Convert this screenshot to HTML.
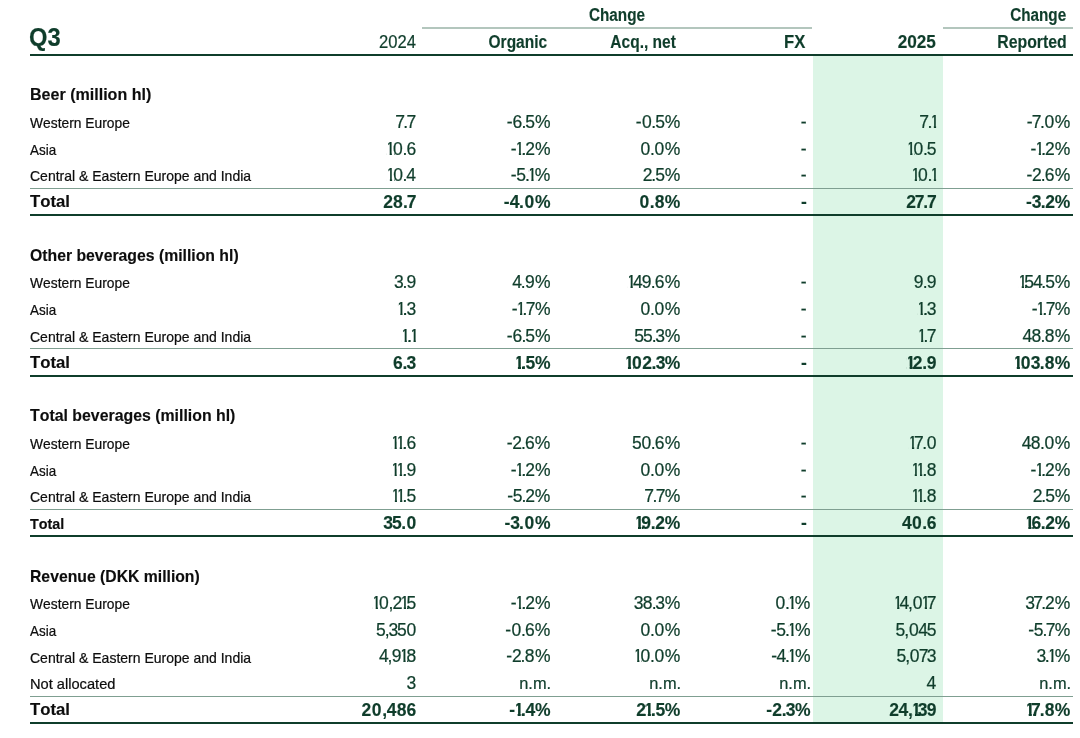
<!DOCTYPE html>
<html lang="en">
<head>
<meta charset="utf-8">
<title>Q3</title>
<style>
html,body{margin:0;padding:0;background:#fff;}
body{width:1080px;height:738px;position:relative;overflow:hidden;font-family:"Liberation Sans",sans-serif;color:#0f3d2b;font-kerning:none;}
span{position:absolute;white-space:nowrap;line-height:20px;-webkit-text-stroke:0.22px currentColor;}
.b{font-weight:bold;-webkit-text-stroke:0.15px currentColor;}
.thin{position:absolute;height:1px;background:#7f9f91;}
.thick{position:absolute;height:2px;background:#0f3d2b;}
.band{position:absolute;background:#dcf5e6;}
.nums{position:absolute;left:0;top:0;font-size:17.5px;fill:#0f3d2b;stroke:#0f3d2b;stroke-width:0.22px;}
.nums .b{font-weight:bold;stroke-width:0.15px;}
</style>
</head>
<body>
<div class="band" style="left:812.6px;top:56px;width:130.3px;height:667px"></div>
<span class="b" style="top:5px;font-size:17.5px;left:589.17px;transform:scaleX(0.8734);transform-origin:left center">Change</span>
<span class="b" style="top:5px;font-size:17.5px;right:13.68px;transform:scaleX(0.8734);transform-origin:right center">Change</span>
<div class="thin" style="left:422px;top:27px;width:390.4px;height:2px;background:#b3c6bd"></div>
<div class="thin" style="left:942.8px;top:27px;width:130.0px;height:2px;background:#b3c6bd"></div>
<span class="b" style="top:27px;font-size:25px;left:29.22px;transform:scaleX(0.9516);transform-origin:left center">Q3</span>
<span style="top:32px;font-size:17.5px;right:664.51px;transform:scaleX(0.9484);transform-origin:right center">2024</span>
<span class="b" style="top:32px;font-size:17.5px;right:533.30px;transform:scaleX(0.8860);transform-origin:right center">Organic</span>
<span class="b" style="top:32px;font-size:17.5px;right:403.71px;transform:scaleX(0.8874);transform-origin:right center">Acq., net</span>
<span class="b" style="top:32px;font-size:17.5px;right:274.15px;transform:scaleX(0.9507);transform-origin:right center">FX</span>
<span class="b" style="top:32px;font-size:17.5px;right:144.22px;transform:scaleX(0.9832);transform-origin:right center">2025</span>
<span class="b" style="top:32px;font-size:17.5px;right:12.75px;transform:scaleX(0.9062);transform-origin:right center">Reported</span>
<div class="thick" style="left:29.8px;top:54px;width:1043.0px"></div>
<span class="b" style="top:85px;font-size:17px;left:29.53px;transform:scaleX(0.9441);transform-origin:left center;color:#0d0d0d">Beer (million hl)</span>
<span style="top:113px;font-size:14.8px;left:30.24px;transform:scaleX(0.9339);transform-origin:left center;color:#0d0d0d">Western Europe</span>
<span style="top:112px;font-size:17.5px;right:273.52px">-</span>
<span style="top:140px;font-size:14.8px;left:30.27px;transform:scaleX(0.9075);transform-origin:left center;color:#0d0d0d">Asia</span>
<span style="top:139px;font-size:17.5px;right:273.52px">-</span>
<span style="top:166px;font-size:14.8px;left:29.59px;transform:scaleX(0.9463);transform-origin:left center;color:#0d0d0d">Central &amp; Eastern Europe and India</span>
<span style="top:165px;font-size:17.5px;right:273.52px">-</span>
<div class="thin" style="left:29.8px;top:188px;width:1043.0px"></div>
<span class="b" style="top:192px;font-size:17px;left:29.81px;transform:scaleX(0.9844);transform-origin:left center;color:#0d0d0d">Total</span>
<span class="b" style="top:192px;font-size:17.5px;right:273.30px">-</span>
<div class="thick" style="left:29.8px;top:214px;width:1043.0px"></div>
<span class="b" style="top:246px;font-size:17px;left:29.95px;transform:scaleX(0.9280);transform-origin:left center;color:#0d0d0d">Other beverages (million hl)</span>
<span style="top:273px;font-size:14.8px;left:30.24px;transform:scaleX(0.9339);transform-origin:left center;color:#0d0d0d">Western Europe</span>
<span style="top:272px;font-size:17.5px;right:273.52px">-</span>
<span style="top:300px;font-size:14.8px;left:30.27px;transform:scaleX(0.9075);transform-origin:left center;color:#0d0d0d">Asia</span>
<span style="top:299px;font-size:17.5px;right:273.52px">-</span>
<span style="top:327px;font-size:14.8px;left:29.59px;transform:scaleX(0.9463);transform-origin:left center;color:#0d0d0d">Central &amp; Eastern Europe and India</span>
<span style="top:326px;font-size:17.5px;right:273.52px">-</span>
<div class="thin" style="left:29.8px;top:348px;width:1043.0px"></div>
<span class="b" style="top:353px;font-size:17px;left:29.81px;transform:scaleX(0.9844);transform-origin:left center;color:#0d0d0d">Total</span>
<span class="b" style="top:353px;font-size:17.5px;right:273.30px">-</span>
<div class="thick" style="left:29.8px;top:375px;width:1043.0px"></div>
<span class="b" style="top:406px;font-size:17px;left:30.42px;transform:scaleX(0.9331);transform-origin:left center;color:#0d0d0d">Total beverages (million hl)</span>
<span style="top:434px;font-size:14.8px;left:30.24px;transform:scaleX(0.9339);transform-origin:left center;color:#0d0d0d">Western Europe</span>
<span style="top:433px;font-size:17.5px;right:273.52px">-</span>
<span style="top:461px;font-size:14.8px;left:30.27px;transform:scaleX(0.9075);transform-origin:left center;color:#0d0d0d">Asia</span>
<span style="top:460px;font-size:17.5px;right:273.52px">-</span>
<span style="top:487px;font-size:14.8px;left:29.59px;transform:scaleX(0.9463);transform-origin:left center;color:#0d0d0d">Central &amp; Eastern Europe and India</span>
<span style="top:486px;font-size:17.5px;right:273.52px">-</span>
<div class="thin" style="left:29.8px;top:509px;width:1043.0px"></div>
<span class="b" style="top:514px;font-size:14.8px;left:29.84px;transform:scaleX(0.9696);transform-origin:left center;color:#0d0d0d">Total</span>
<span class="b" style="top:513px;font-size:17.5px;right:273.30px">-</span>
<div class="thick" style="left:29.8px;top:535px;width:1043.0px"></div>
<span class="b" style="top:567px;font-size:17px;left:29.55px;transform:scaleX(0.9263);transform-origin:left center;color:#0d0d0d">Revenue (DKK million)</span>
<span style="top:594px;font-size:14.8px;left:30.24px;transform:scaleX(0.9339);transform-origin:left center;color:#0d0d0d">Western Europe</span>
<span style="top:621px;font-size:14.8px;left:30.27px;transform:scaleX(0.9075);transform-origin:left center;color:#0d0d0d">Asia</span>
<span style="top:648px;font-size:14.8px;left:29.59px;transform:scaleX(0.9463);transform-origin:left center;color:#0d0d0d">Central &amp; Eastern Europe and India</span>
<span style="top:674px;font-size:14.8px;left:29.80px;transform:scaleX(0.9891);transform-origin:left center;color:#0d0d0d">Not allocated</span>
<span style="top:673px;font-size:16.5px;right:528.90px;transform:scaleX(0.9936);transform-origin:right center">n.m.</span>
<span style="top:673px;font-size:16.5px;right:399.00px;transform:scaleX(0.9936);transform-origin:right center">n.m.</span>
<span style="top:673px;font-size:16.5px;right:268.90px;transform:scaleX(0.9936);transform-origin:right center">n.m.</span>
<span style="top:673px;font-size:16.5px;right:9.00px;transform:scaleX(0.9936);transform-origin:right center">n.m.</span>
<div class="thin" style="left:29.8px;top:696px;width:1043.0px"></div>
<span class="b" style="top:700px;font-size:17px;left:29.81px;transform:scaleX(0.9844);transform-origin:left center;color:#0d0d0d">Total</span>
<div class="thick" style="left:29.8px;top:722px;width:1043.0px"></div>
<svg class="nums" width="1080" height="738" viewBox="0 0 1080 738"><defs><clipPath id="k"><path clip-rule="evenodd" d="M0 0H1080V738H0ZM930.98 114.05H932.4V120.65H930.98ZM931.08 126.04H933.85V129.2H931.08ZM936.1 126.04H939.33V129.2H936.1ZM386.43 141.05H388.2V147.65H386.43ZM516 141.05H517.4V147.65H516ZM906.97 141.05H908.74V147.65H906.97ZM1035.9 141.05H1037.3V147.65H1035.9ZM386.18 153.04H389.65V156.2H386.18ZM391.89 153.04H394.08V156.2H391.89ZM515.38 153.04H518.85V156.2H515.38ZM521.1 153.04H522.64V156.2H521.1ZM906.72 153.04H910.19V156.2H906.72ZM912.43 153.04H914.62V156.2H912.43ZM1035.28 153.04H1038.75V156.2H1035.28ZM1041 153.04H1042.54V156.2H1041ZM386.65 167.05H388.42V173.65H386.65ZM528.47 167.05H529.89V173.65H528.47ZM911.52 167.05H913.29V173.65H911.52ZM930.98 167.05H932.4V173.65H930.98ZM386.4 179.04H389.87V182.2H386.4ZM392.11 179.04H394.3V182.2H392.11ZM528.57 179.04H531.34V182.2H528.57ZM533.59 179.04H536.82V182.2H533.59ZM911.27 179.04H914.74V182.2H911.27ZM916.99 179.04H919.17V182.2H916.99ZM931.08 179.04H933.85V182.2H931.08ZM936.1 179.04H939.33V182.2H936.1ZM627.32 274.05H629.08V280.65H627.32ZM1018.52 274.05H1020.28V280.65H1018.52ZM627.07 286.04H630.53V289.2H627.07ZM632.78 286.04H636.01V289.2H632.78ZM1018.27 286.04H1021.73V289.2H1018.27ZM1023.98 286.04H1024.94V289.2H1023.98ZM397.09 301.05H398.85V307.65H397.09ZM517.15 301.05H518.55V307.65H517.15ZM917.39 301.05H919.15V307.65H917.39ZM1037.05 301.05H1038.45V307.65H1037.05ZM396.84 313.04H400.3V316.2H396.84ZM402.55 313.04H404.1V316.2H402.55ZM516.53 313.04H520V316.2H516.53ZM522.25 313.04H523.79V316.2H522.25ZM917.14 313.04H920.6V316.2H917.14ZM922.85 313.04H924.4V316.2H922.85ZM1036.43 313.04H1039.9V316.2H1036.43ZM1042.15 313.04H1043.69V316.2H1042.15ZM401.4 328.05H403.17V334.65H401.4ZM410.68 328.05H412.1V334.65H410.68ZM917.85 328.05H919.62V334.65H917.85ZM401.15 340.04H404.62V343.2H401.15ZM406.87 340.04H408.41V343.2H406.87ZM410.78 340.04H413.55V343.2H410.78ZM415.8 340.04H419.03V343.2H415.8ZM917.6 340.04H921.07V343.2H917.6ZM923.31 340.04H924.86V343.2H923.31ZM514.53 355.05H516.47V361.65H514.53ZM624.56 355.05H626.5V361.65H624.56ZM906.27 355.05H908.21V361.65H906.27ZM1013.41 355.05H1015.35V361.65H1013.41ZM514.53 366.56H517.92V370.2H514.53ZM521.02 366.56H521.99V370.2H521.02ZM624.57 366.56H627.95V370.2H624.57ZM631.05 366.56H633.02V370.2H631.05ZM906.27 366.56H909.66V370.2H906.27ZM912.76 366.56H913.08V370.2H912.76ZM1013.42 366.56H1016.8V370.2H1013.42ZM1019.9 366.56H1021.87V370.2H1019.9ZM391.39 435.05H393.16V441.65H391.39ZM396.76 435.05H398.38V441.65H396.76ZM908.74 435.05H910.51V441.65H908.74ZM391.14 447.04H394.61V450.2H391.14ZM396.76 447.04H399.83V450.2H396.76ZM402.08 447.04H403.62V450.2H402.08ZM908.49 447.04H911.96V450.2H908.49ZM914.21 447.04H916.8V450.2H914.21ZM391.4 462.05H393.17V468.65H391.4ZM396.77 462.05H398.39V468.65H396.77ZM516 462.05H517.4V468.65H516ZM911.53 462.05H913.3V468.65H911.53ZM916.9 462.05H918.52V468.65H916.9ZM1035.9 462.05H1037.3V468.65H1035.9ZM391.15 474.04H394.62V477.2H391.15ZM396.77 474.04H399.84V477.2H396.77ZM402.09 474.04H403.63V477.2H402.09ZM515.38 474.04H518.85V477.2H515.38ZM521.1 474.04H522.64V477.2H521.1ZM911.28 474.04H914.75V477.2H911.28ZM916.9 474.04H919.97V477.2H916.9ZM922.22 474.04H923.76V477.2H922.22ZM1035.28 474.04H1038.75V477.2H1035.28ZM1041 474.04H1042.54V477.2H1041ZM391.63 488.05H393.4V494.65H391.63ZM397 488.05H398.62V494.65H397ZM911.53 488.05H913.3V494.65H911.53ZM916.9 488.05H918.52V494.65H916.9ZM391.38 500.04H394.85V503.2H391.38ZM397 500.04H400.07V503.2H397ZM402.32 500.04H403.86V503.2H402.32ZM911.28 500.04H914.75V503.2H911.28ZM916.9 500.04H919.97V503.2H916.9ZM922.22 500.04H923.76V503.2H922.22ZM634.6 515.05H636.53V521.65H634.6ZM1024.95 515.05H1026.88V521.65H1024.95ZM634.6 526.56H637.98V530.2H634.6ZM641.08 526.56H641.85V530.2H641.08ZM1024.95 526.56H1028.33V530.2H1024.95ZM1031.43 526.56H1032.32V530.2H1031.43ZM372.47 595.05H374.23V601.65H372.47ZM401.53 595.05H402.33V601.65H401.53ZM516 595.05H517.4V601.65H516ZM788.47 595.05H789.89V601.65H788.47ZM893.91 595.05H895.68V601.65H893.91ZM922.02 595.05H923.33V601.65H922.02ZM372.22 607.04H375.68V610.2H372.22ZM377.93 607.04H380.12V610.2H377.93ZM401.63 607.04H403.78V610.2H401.63ZM406.03 607.04H406.99V610.2H406.03ZM515.38 607.04H518.85V610.2H515.38ZM521.1 607.04H522.64V610.2H521.1ZM788.57 607.04H791.34V610.2H788.57ZM793.59 607.04H796.82V610.2H793.59ZM893.66 607.04H897.13V610.2H893.66ZM899.38 607.04H902.61V610.2H899.38ZM921.35 607.04H924.78V610.2H921.35ZM927.02 607.04H929.62V610.2H927.02ZM788.47 622.05H789.89V628.65H788.47ZM788.57 634.04H791.34V637.2H788.57ZM793.59 634.04H796.82V637.2H793.59ZM400.88 648.05H401.93V654.65H400.88ZM633.95 648.05H635.72V654.65H633.95ZM788.47 648.05H789.89V654.65H788.47ZM1048.37 648.05H1049.79V654.65H1048.37ZM400.06 660.04H403.38V663.2H400.06ZM405.63 660.04H407.11V663.2H405.63ZM633.7 660.04H637.17V663.2H633.7ZM639.41 660.04H641.6V663.2H639.41ZM788.57 660.04H791.34V663.2H788.57ZM793.59 660.04H796.82V663.2H793.59ZM1048.47 660.04H1051.24V663.2H1048.47ZM1053.49 660.04H1056.72V663.2H1053.49ZM514.72 702.05H516.22V708.65H514.72ZM645.59 702.05H646.37V708.65H645.59ZM912.05 702.05H913.52V708.65H912.05ZM1025.35 702.05H1027.28V708.65H1025.35ZM514.28 713.56H517.67V717.2H514.28ZM520.77 713.56H521.74V717.2H520.77ZM645.69 713.56H647.82V717.2H645.69ZM650.92 713.56H651.89V717.2H650.92ZM912.15 713.56H914.97V717.2H912.15ZM1025.35 713.56H1028.73V717.2H1025.35ZM1031.83 713.56H1033.25V717.2H1031.83Z"/></clipPath></defs>
<g clip-path="url(#k)">
<text x="395.20" y="128" dx="0 -1.62 -1.62">7.7</text>
<text x="506.68" y="128" dx="0 0 -0.8 -1.07 -0.1">-6.5%</text>
<text x="635.68" y="128" dx="0 0.45 -0.35 -1.08 -0.1">-0.5%</text>
<text x="919.36" y="128" dx="0 -1.62 -2.58">7.1</text>
<text x="1026.78" y="128" dx="0 -0.82 -1.62 -0.35 0.62">-7.0%</text>
<text x="385.55" y="155" dx="0 -2.29 -0.35 -0.8">10.6</text>
<text x="510.70" y="155" dx="0 -1.78 -3.09 -1.05 -0.07">-1.2%</text>
<text x="640.51" y="155" dx="0 -0.35 -0.35 0.62">0.0%</text>
<text x="906.09" y="155" dx="0 -2.29 -0.35 -1.08">10.5</text>
<text x="1030.60" y="155" dx="0 -1.78 -3.09 -1.05 -0.08">-1.2%</text>
<text x="385.76" y="181" dx="0 -2.29 -0.35 -1.28">10.4</text>
<text x="510.75" y="181" dx="0 -0.28 -1.08 -2.58 -2.11">-5.1%</text>
<text x="642.66" y="181" dx="0 -1.05 -1.08 -0.1">2.5%</text>
<text x="910.64" y="181" dx="0 -2.29 -0.35 -2.58">10.1</text>
<text x="1026.53" y="181" dx="0 -0.25 -1.05 -0.8 0.17">-2.6%</text>
<text class="b" x="383.16" y="208" dx="0 0.12 0.2 -1.18">28.7</text>
<text class="b" x="503.65" y="208" dx="0 0.27 -0.38 0.52 0.68">-4.0%</text>
<text class="b" x="639.40" y="208" dx="0 0.53 0.2 0.35">0.8%</text>
<text class="b" x="906.21" y="208" dx="0 -1.25 -1.17 -1.18">27.7</text>
<text class="b" x="1026.10" y="208" dx="0 -0.1 -0.75 -0.38 -0.23">-3.2%</text>
<text x="393.93" y="288" dx="0 -1.28 -0.75">3.9</text>
<text x="512.34" y="288" dx="0 -1.27 -0.75 0.23">4.9%</text>
<text x="626.43" y="288" dx="0 -3.21 -0.88 -0.75 -0.8 0.17">149.6%</text>
<text x="913.70" y="288" dx="0 -0.75 -0.75">9.9</text>
<text x="1017.63" y="288" dx="0 -3.01 -1.2 -1.28 -1.08 -0.1">154.5%</text>
<text x="396.20" y="315" dx="0 -3.09 -1.27">1.3</text>
<text x="511.85" y="315" dx="0 -1.78 -3.09 -1.62 -0.65">-1.7%</text>
<text x="640.51" y="315" dx="0 -0.35 -0.35 0.62">0.0%</text>
<text x="916.50" y="315" dx="0 -3.09 -1.27">1.3</text>
<text x="1031.75" y="315" dx="0 -1.78 -3.09 -1.62 -0.65">-1.7%</text>
<text x="400.52" y="342" dx="0 -3.09 -2.58">1.1</text>
<text x="506.68" y="342" dx="0 0 -0.8 -1.07 -0.1">-6.5%</text>
<text x="634.35" y="342" dx="0 -1 -1.08 -1.27 -0.3">55.3%</text>
<text x="916.96" y="342" dx="0 -3.09 -1.62">1.7</text>
<text x="1022.45" y="342" dx="0 -0.77 -0.65 -0.65 0.33">48.8%</text>
<text class="b" x="393.05" y="369" dx="0 -0.4 -0.75">6.3</text>
<text class="b" x="514.13" y="369" dx="0 -2.71 -0.5 -0.35">1.5%</text>
<text class="b" x="624.17" y="369" dx="0 -1.88 0.45 -0.38 -0.75 -0.6">102.3%</text>
<text class="b" x="905.87" y="369" dx="0 -2.78 -0.38 -0.22">12.9</text>
<text class="b" x="1013.02" y="369" dx="0 -1.88 0.08 -0.75 0.2 0.35">103.8%</text>
<text x="390.51" y="449" dx="0 -4.51 -3.09 -0.8">11.6</text>
<text x="506.63" y="449" dx="0 -0.25 -1.05 -0.8 0.17">-2.6%</text>
<text x="631.95" y="449" dx="0 -0.27 -0.35 -0.8 0.17">50.6%</text>
<text x="907.86" y="449" dx="0 -3.56 -1.62 -0.35">17.0</text>
<text x="1021.85" y="449" dx="0 -0.77 -0.65 -0.35 0.62">48.0%</text>
<text x="390.52" y="476" dx="0 -4.51 -3.09 -0.75">11.9</text>
<text x="510.70" y="476" dx="0 -1.78 -3.09 -1.05 -0.07">-1.2%</text>
<text x="640.51" y="476" dx="0 -0.35 -0.35 0.62">0.0%</text>
<text x="910.65" y="476" dx="0 -4.51 -3.09 -0.65">11.8</text>
<text x="1030.60" y="476" dx="0 -1.78 -3.09 -1.05 -0.08">-1.2%</text>
<text x="390.75" y="502" dx="0 -4.51 -3.09 -1.07">11.5</text>
<text x="507.18" y="502" dx="0 -0.27 -1.08 -1.05 -0.08">-5.2%</text>
<text x="644.34" y="502" dx="0 -1.62 -1.62 -0.65">7.7%</text>
<text x="910.65" y="502" dx="0 -4.51 -3.09 -0.65">11.8</text>
<text x="1032.66" y="502" dx="0 -1.05 -1.07 -0.1">2.5%</text>
<text class="b" x="383.18" y="529" dx="0 -0.95 -0.5 0.53">35.0</text>
<text class="b" x="504.40" y="529" dx="0 -0.1 -0.75 0.52 0.68">-3.0%</text>
<text class="b" x="634.20" y="529" dx="0 -2.63 -0.23 -0.38 -0.23">19.2%</text>
<text class="b" x="901.90" y="529" dx="0 0.45 0.52 -0.4">40.6</text>
<text class="b" x="1024.55" y="529" dx="0 -2.81 -0.4 -0.38 -0.22">16.2%</text>
<text x="371.58" y="609" dx="0 -2.29 -0.25 -0.95 -2.48 -3.01">10,215</text>
<text x="510.70" y="609" dx="0 -1.78 -3.09 -1.05 -0.07">-1.2%</text>
<text x="633.70" y="609" dx="0 -0.77 -0.65 -1.27 -0.3">38.3%</text>
<text x="775.57" y="609" dx="0 -0.35 -2.58 -2.11">0.1%</text>
<text x="893.03" y="609" dx="0 -3.21 -1.17 -0.25 -1.78 -3.56">14,017</text>
<text x="1025.20" y="609" dx="0 -1.75 -1.62 -1.05 -0.08">37.2%</text>
<text x="375.92" y="636" dx="0 -0.98 -1.17 -1.2 -0.27">5,350</text>
<text x="505.23" y="636" dx="0 0.45 -0.35 -0.8 0.17">-0.6%</text>
<text x="640.51" y="636" dx="0 -0.35 -0.35 0.62">0.0%</text>
<text x="770.75" y="636" dx="0 -0.27 -1.08 -2.58 -2.11">-5.1%</text>
<text x="895.54" y="636" dx="0 -0.98 -0.25 -0.48 -1.2">5,045</text>
<text x="1028.23" y="636" dx="0 -0.27 -1.08 -1.62 -0.65">-5.7%</text>
<text x="378.96" y="662" dx="0 -1.18 -0.65 -2.18 -2.59">4,918</text>
<text x="506.33" y="662" dx="0 -0.25 -1.05 -0.65 0.33">-2.8%</text>
<text x="633.07" y="662" dx="0 -2.29 -0.35 -0.35 0.62">10.0%</text>
<text x="771.15" y="662" dx="0 -0.48 -1.27 -2.58 -2.11">-4.1%</text>
<text x="896.48" y="662" dx="0 -0.98 -0.25 -0.82 -1.75">5,073</text>
<text x="1036.40" y="662" dx="0 -1.27 -2.58 -2.11">3.1%</text>
<text x="406.44" y="689">3</text>
<text x="926.48" y="689">4</text>
<text class="b" x="361.58" y="716" dx="0 0.45 0.67 -0.22 0.12 0.1">20,486</text>
<text class="b" x="509.34" y="716" dx="0 -1.28 -2.71 -0.38 -0.23">-1.4%</text>
<text class="b" x="636.31" y="716" dx="0 -2.01 -2.71 -0.5 -0.35">21.5%</text>
<text class="b" x="766.20" y="716" dx="0 0.27 -0.38 -0.75 -0.6">-2.3%</text>
<text class="b" x="889.32" y="716" dx="0 -0.45 -0.23 -1.78 -3.16 -0.67">24,139</text>
<text class="b" x="1024.95" y="716" dx="0 -3.58 -1.17 0.2 0.35">17.8%</text>
</g></svg>
</body>
</html>
